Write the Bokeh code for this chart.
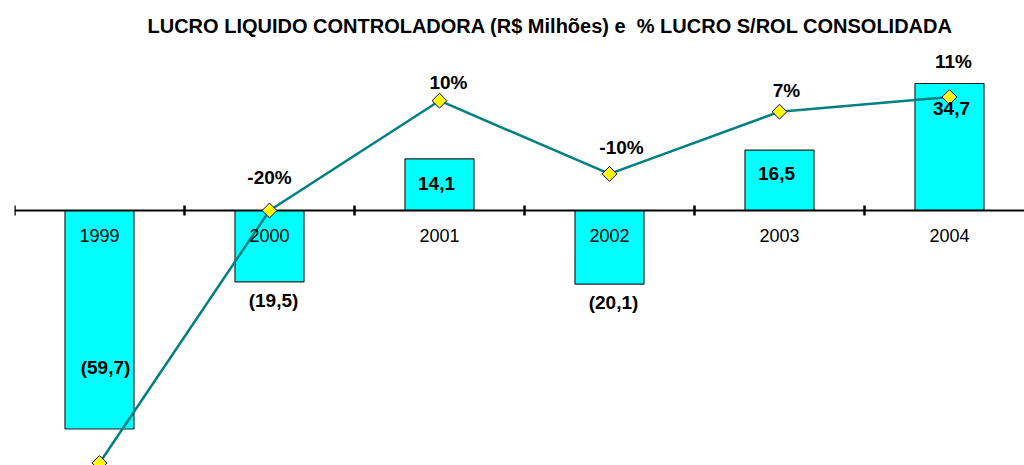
import math
from bokeh.plotting import figure
from bokeh.models import Range1d, FixedTicker, ColumnDataSource
from bokeh.core.properties import value
from bokeh.embed import file_html
from bokeh.resources import INLINE

# ---- data ----
years = ["1999", "2000", "2001", "2002", "2003", "2004"]
lucro = [-59.7, -19.5, 14.1, -20.1, 16.5, 34.7]      # R$ milhões
pct = [-89, -20, 10, -10, 7, 11]                      # % lucro s/ROL
title_text = "LUCRO LIQUIDO CONTROLADORA (R$ Milhões) e \u00a0% LUCRO S/ROL CONSOLIDADA"

# ---- style: label offsets (px) ----
bar_lbl_dx = [6, 4, -3, 4, -3, 2]
bar_lbl_dy = [-62, 19, 25, 18, 23, 25]
pct_lbl_dx = [0, 0, 9, 12, 7, 4]
pct_lbl_dy = [-25, -33, -18, -26, -21, -36]
pct_lbl_show = [False, True, True, True, True, True]   # 1999 label falls outside the chart

PCT_SHIFT = 20  # secondary axis: -20% sits on the zero line


def fmt(v):
    s = f"{abs(v):.1f}".replace(".", ",")
    return f"({s})" if v < 0 else s


xs = list(range(len(years)))
src = ColumnDataSource(dict(
    x=xs, year=years, lucro=lucro, pct=pct,
    lucro_lbl=[fmt(v) for v in lucro],
    pct_lbl=[f"{v}%" if s else "" for v, s in zip(pct, pct_lbl_show)],
    bdx=bar_lbl_dx, bdy=bar_lbl_dy, pdx=pct_lbl_dx, pdy=pct_lbl_dy,
))

W, H = 1024, 465
ML, MT = 14, 48
frame_w = W - ML
PX_PER_UNIT = 3.66
ZERO_PX = 210
y1 = (ZERO_PX - MT) / PX_PER_UNIT
y0 = -(H - ZERO_PX) / PX_PER_UNIT

p = figure(width=W, height=H, output_backend="svg", toolbar_location=None,
           x_range=Range1d(-0.5, -0.5 + frame_w / 170.0),
           y_range=Range1d(y0, y1),
           x_axis_location="above", y_axis_location=None,
           min_border_left=ML, min_border_right=0, min_border_bottom=0,
           min_border_top=MT)
p.extra_y_ranges = {"pct": Range1d(y0 - PCT_SHIFT, y1 - PCT_SHIFT)}

p.xgrid.visible = False
p.ygrid.visible = False
p.outline_line_color = None
p.background_fill_color = "white"
p.border_fill_color = "white"

p.title.text = title_text
p.title.align = "left"
p.title.offset = 133
p.title.standoff = 24
p.title.text_font = "Liberation Sans"
p.title.text_font_size = "20px"
p.title.text_font_style = "bold"
p.title.text_color = "black"

ticks = [i - 0.5 for i in range(len(years) + 1)]
ax = p.xaxis[0]
ax.fixed_location = 0
ax.ticker = FixedTicker(ticks=ticks)
ax.major_label_overrides = {t: "" for t in ticks}
ax.major_label_text_font_size = "1px"
ax.major_label_standoff = 0
ax.major_tick_in = 5
ax.major_tick_out = 5
ax.minor_tick_in = 0
ax.minor_tick_out = 0
ax.axis_line_width = 2
ax.axis_line_color = "black"
ax.major_tick_line_width = 2.5
ax.major_tick_line_color = "black"

p.vbar(x="x", top="lucro", bottom=0, width=0.406, source=src,
       fill_color="#00FFFF", line_color="#222222", line_width=1.2)

p.line(x="x", y="pct", y_range_name="pct", source=src,
       line_color="#008080", line_width=2.5)

p.scatter(x="x", y="pct", y_range_name="pct", source=src,
          marker="square", angle=math.pi / 4, size=10.5,
          fill_color="#FFFF00", line_color="#000080", line_width=1,
          level="overlay")

p.text(x="x", y=0, text="year", source=src, y_offset=25,
       text_align="center", text_baseline="middle",
       text_font=value("Liberation Sans"), text_font_size="18px",
       text_color="black")

p.text(x="x", y="lucro", text="lucro_lbl", source=src,
       x_offset="bdx", y_offset="bdy",
       text_align="center", text_baseline="middle",
       text_font=value("Liberation Sans"), text_font_size="19px",
       text_font_style="bold", text_color="black", level="overlay")

p.text(x="x", y="pct", text="pct_lbl", y_range_name="pct", source=src,
       x_offset="pdx", y_offset="pdy",
       text_align="center", text_baseline="middle",
       text_font=value("Liberation Sans"), text_font_size="19px",
       text_font_style="bold", text_color="black", level="overlay")

open("out.html", "w").write(file_html(p, INLINE))
